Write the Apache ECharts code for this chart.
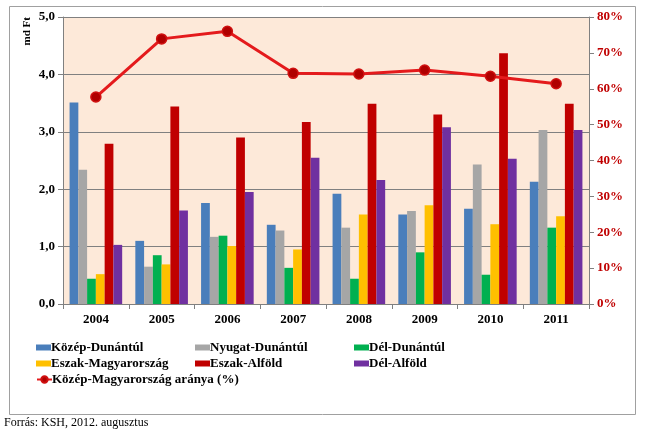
<!DOCTYPE html>
<html><head><meta charset="utf-8">
<script src="https://cdn.jsdelivr.net/npm/echarts@6/dist/echarts.min.js"></script>
<style>html,body{margin:0;padding:0;background:#fff}#c{width:651px;height:439px}</style>
</head><body><div id="c"></div>
<script>
const years = ['2004','2005','2006','2007','2008','2009','2010','2011'];
const kozepDunantul = [3.51,1.10,1.76,1.38,1.92,1.56,1.66,2.13];
const nyugatDunantul = [2.34,0.65,1.17,1.28,1.33,1.62,2.43,3.03];
const delDunantul = [0.44,0.85,1.19,0.63,0.44,0.90,0.51,1.33];
const eszakMagyarorszag = [0.52,0.69,1.01,0.95,1.56,1.72,1.39,1.53];
const eszakAlfold = [2.79,3.44,2.90,3.17,3.49,3.30,4.37,3.49];
const delAlfold = [1.03,1.63,1.95,2.55,2.16,3.08,2.53,3.03];
const kozepMoArany = [57.7,73.9,76.0,64.3,64.1,65.2,63.5,61.4];
const leftTicks = [0,1,2,3,4,5];
const rightTicks = [0,10,20,30,40,50,60,70,80];

const serif = '"Liberation Serif","Times New Roman",serif';
const barData = [kozepDunantul,nyugatDunantul,delDunantul,eszakMagyarorszag,eszakAlfold,delAlfold];
const barColors = ['#4A7EBB','#A6A6A6','#00B050','#FFC000','#C00000','#7030A0'];
const legendNames = ['Közép-Dunántúl','Nyugat-Dunántúl','Dél-Dunántúl','Eszak-Magyarország','Eszak-Alföld','Dél-Alföld'];

const series = barData.map((d,i)=>({
  name: legendNames[i], type:'bar', data:d, barGap:'0%', barCategoryGap:'20%',
  itemStyle:{color:barColors[i]}, animation:false
}));
series.push({
  name:'Közép-Magyarország aránya (%)', type:'line', yAxisIndex:1, data:kozepMoArany,
  lineStyle:{color:'#E41A1C',width:3}, itemStyle:{color:'#B00000',borderColor:'#D01010',borderWidth:1.5},
  symbol:'circle', symbolSize:10, animation:false, z:5
});

const legPos = [[31,336],[190,336],[349,336],[31,352],[190,352],[349,352],[31,368]];
const legends = legPos.map((p,i)=>({
  data:[i<6?legendNames[i]:'Közép-Magyarország aránya (%)'],
  left:p[0], top:p[1], itemWidth:15, itemHeight:i<6?6:8, itemGap:0,
  icon: i<6?'rect':undefined,
  textStyle:{fontFamily:serif,fontWeight:'bold',fontSize:13,color:'#000',padding:[0,0,0,-5]},
  selectedMode:false
}));

const chart = echarts.init(document.getElementById('c'));
chart.setOption({
  animation:false,
  backgroundColor:'#fff',
  grid:{left:63,right:62,top:17,bottom:135,show:true,backgroundColor:'#FDE9D9',borderWidth:0},
  legend: legends,
  xAxis:{type:'category',data:years,
    axisLine:{lineStyle:{color:'#808080'}},
    axisTick:{show:true,inside:false,length:5,lineStyle:{color:'#808080'}},
    axisLabel:{fontFamily:serif,fontWeight:'bold',fontSize:13,color:'#000',margin:9}},
  yAxis:[
    {type:'value',min:0,max:5,interval:1,
     name:'md Ft',nameLocation:'end',nameRotate:90,nameGap:0,
     nameTextStyle:{fontFamily:serif,fontWeight:'bold',fontSize:11,color:'#000',align:'right',verticalAlign:'bottom',padding:[0,0,30,0]},
     axisLine:{show:true,lineStyle:{color:'#808080'}},
     axisTick:{show:true,length:5,lineStyle:{color:'#808080'}},
     splitLine:{show:true,lineStyle:{color:'#808080',width:1}},
     axisLabel:{fontFamily:serif,fontWeight:'bold',fontSize:13,color:'#000',margin:8,
       formatter:v=>v.toFixed(1).replace('.',',')}},
    {type:'value',min:0,max:80,interval:10,position:'right',
     axisLine:{show:true,lineStyle:{color:'#808080'}},
     axisTick:{show:true,length:5,lineStyle:{color:'#808080'}},
     splitLine:{show:false},
     axisLabel:{fontFamily:serif,fontWeight:'bold',fontSize:13,color:'#C00000',margin:8,formatter:'{value}%'}}
  ],
  series: series,
  graphic:[
    {type:'rect',shape:{x:9.5,y:6.5,width:626,height:408},style:{fill:'none',stroke:'#A0A0A0',lineWidth:1},silent:true,z:-1},
    {type:'text',left:4,top:417,style:{text:'Forrás: KSH, 2012. augusztus',font:'12px "Liberation Serif", serif',fill:'#000'}}
  ]
});
</script></body></html>
